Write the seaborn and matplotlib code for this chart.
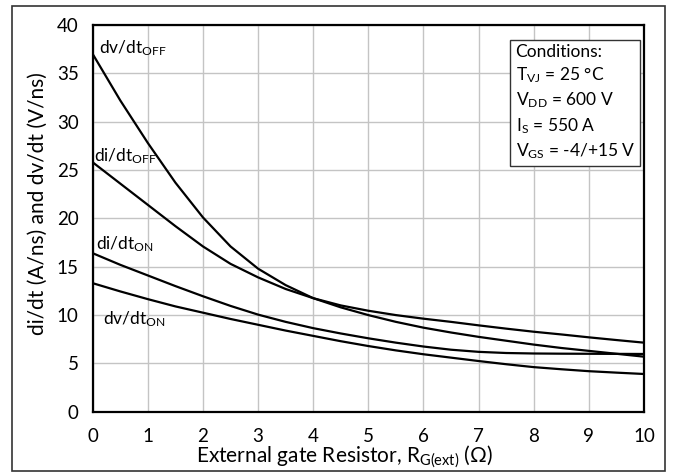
import matplotlib
matplotlib.use("Agg")
import matplotlib.pyplot as plt
from matplotlib.patches import Rectangle
import seaborn as sns
import pandas as pd

# gate resistor values (Ohm)
rg = [0, 0.5, 1, 1.5, 2, 2.5, 3, 3.5, 4, 4.5, 5, 5.5, 6, 6.5, 7, 7.5, 8, 8.5, 9, 9.5, 10]

# switching speeds
dv_off = [37.0, 32.2, 27.8, 23.7, 20.1, 17.1, 14.8, 13.1, 11.75, 10.8, 10.0, 9.3, 8.7,
          8.2, 7.75, 7.35, 6.95, 6.6, 6.3, 6.0, 5.7]
di_off = [25.8, 23.6, 21.4, 19.2, 17.1, 15.3, 13.9, 12.7, 11.75, 11.0, 10.45, 10.0, 9.63,
          9.3, 8.94, 8.6, 8.28, 8.0, 7.7, 7.42, 7.15]
di_on = [16.4, 15.2, 14.1, 13.0, 11.95, 10.95, 10.05, 9.3, 8.65, 8.1, 7.6, 7.15, 6.75,
         6.42, 6.2, 6.08, 6.03, 6.01, 6.0, 5.99, 5.98]
dv_on = [13.3, 12.45, 11.65, 10.9, 10.25, 9.6, 9.0, 8.4, 7.85, 7.3, 6.8, 6.35, 5.95,
         5.6, 5.25, 4.92, 4.62, 4.4, 4.2, 4.05, 3.91]

series = {"dv_off": dv_off, "di_off": di_off, "di_on": di_on, "dv_on": dv_on}

# curve labels: text, x, y
labels = [
    (r"$\mathregular{dv/dt_{OFF}}$", 0.11, 37.6),
    (r"$\mathregular{di/dt_{OFF}}$", 0.03, 26.4),
    (r"$\mathregular{di/dt_{ON}}$", 0.06, 17.3),
    (r"$\mathregular{dv/dt_{ON}}$", 0.19, 9.6),
]

conditions = [
    "Conditions:",
    r"$\mathregular{T_{VJ}}$ = 25 °C",
    r"$\mathregular{V_{DD}}$ = 600 V",
    r"$\mathregular{I_{S}}$ = 550 A",
    r"$\mathregular{V_{GS}}$ = -4/+15 V",
]

df = pd.DataFrame({"rg": rg, **series}).melt(id_vars="rg", var_name="curve", value_name="val")

sns.set_theme(style="whitegrid")
plt.rcParams["font.family"] = ["Lato", "DejaVu Sans"]
plt.rcParams["mathtext.default"] = "regular"

fig = plt.figure(figsize=(6.75, 4.73), dpi=100)
ax = fig.add_axes([92.7 / 675, 1 - 411.8 / 473, (644 - 92.7) / 675, (411.8 - 25) / 473])

sns.lineplot(data=df, x="rg", y="val", hue="curve", palette=["black"] * 4,
             linewidth=1.6, legend=False, ax=ax)
for ln in ax.lines:
    ln.set_solid_joinstyle("round")

ax.set_xlim(0, 10)
ax.set_ylim(0, 40)
ax.set_xticks(range(0, 11))
ax.set_yticks(range(0, 41, 5))
ax.grid(True, color="#c4c4c4", linewidth=1.0)
for s in ax.spines.values():
    s.set_color("black")
    s.set_linewidth(1.6)
ax.tick_params(length=0, labelsize=13.5, colors="black")
ax.tick_params(axis="x", pad=12)
ax.tick_params(axis="y", pad=10)
ax.set_xlabel(r"External gate Resistor, R$\mathregular{_{G(ext)}}$ (Ω)", fontsize=15,
              color="black")
ax.set_ylabel("di/dt (A/ns) and dv/dt (V/ns)", fontsize=15, color="black")
ax.xaxis.set_label_coords(0.456, -0.084)
ax.yaxis.label.set_va("center")
ax.yaxis.set_label_coords(-0.1, 0.5385)

for txt, x, y in labels:
    ax.text(x, y, txt, fontsize=12.5, va="center", ha="left", color="black")

ax.text(0.767, 0.952, "\n".join(conditions), transform=ax.transAxes,
        fontsize=12.5, va="top", ha="left", linespacing=1.38, color="black",
        bbox=dict(boxstyle="square,pad=0.3", facecolor="white", edgecolor="#333333",
                  linewidth=1.0))

fig.patches.append(Rectangle((11.5 / 675, 1 - 471 / 473), 653 / 675, 464.5 / 473,
                             transform=fig.transFigure, fill=False,
                             edgecolor="#333333", linewidth=1.2))

fig.savefig("out.png", dpi=100)
